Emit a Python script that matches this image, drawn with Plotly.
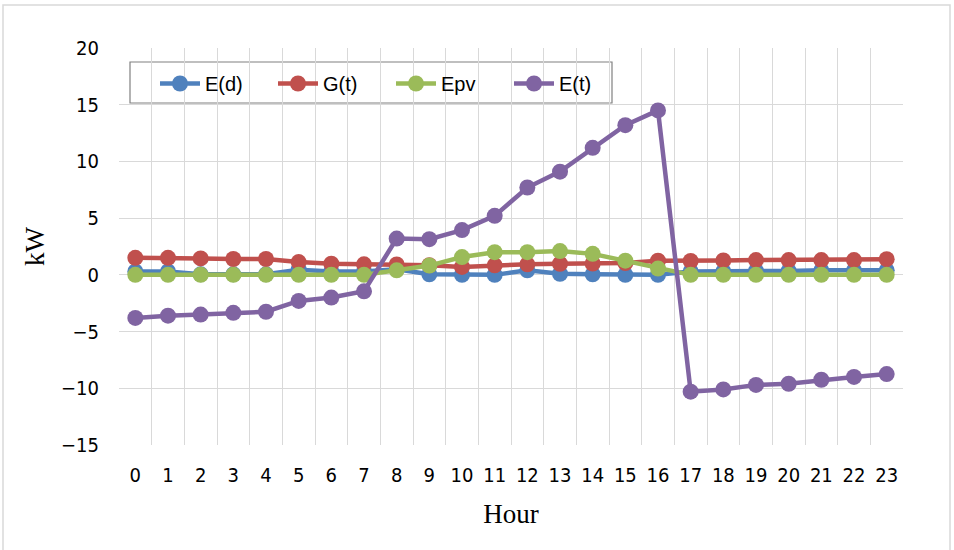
import plotly.graph_objects as go

hours = list(range(24))
hour_labels = [str(h) for h in hours]

E_d = [0.3, 0.3, 0.05, 0.05, 0.05, 0.45, 0.3, 0.3, 0.5, 0.05, 0.0, 0.0, 0.4, 0.1, 0.05, 0.0, 0.0,
       0.3, 0.3, 0.35, 0.35, 0.4, 0.4, 0.4]
G_t = [1.5, 1.5, 1.45, 1.4, 1.4, 1.13, 0.98, 0.93, 0.92, 0.85, 0.7, 0.84, 0.93, 0.98, 1.0, 1.04, 1.25,
       1.22, 1.27, 1.3, 1.3, 1.3, 1.3, 1.38]
E_pv = [0, 0, 0, 0, 0, 0, 0, 0, 0.4, 0.82, 1.57, 2.0, 2.0, 2.1, 1.85, 1.25, 0.55,
        0, 0, 0, 0, 0, 0, 0]
E_t = [-3.8, -3.6, -3.5, -3.35, -3.25, -2.3, -2.0, -1.45, 3.2, 3.15, 3.95, 5.2, 7.7, 9.1, 11.2, 13.2, 14.5,
       -10.3, -10.1, -9.7, -9.6, -9.25, -9.0, -8.75]

series = [("E(d)", E_d, "#4F81BD"), ("G(t)", G_t, "#C0504D"),
          ("Epv", E_pv, "#9BBB59"), ("E(t)", E_t, "#8064A2")]

fig = go.Figure()
for name, vals, col in series:
    fig.add_trace(go.Scatter(x=hours, y=vals, name=name, mode="lines+markers",
                             line=dict(color=col, width=4.5),
                             marker=dict(color=col, size=16)))

W, H = 954, 550
ml, mr, mt, mb = 119, 51, 48, 105
pw, ph = W - ml - mr, H - mt - mb
grid = "#d9d9d9"
tickfont = dict(family="DejaVu Sans Condensed, Liberation Sans Narrow, Arial Narrow, sans-serif",
                size=20, color="#000000")
serif = "Liberation Serif, Times New Roman, serif"


def px(x):
    return (x - ml) / pw


def py(y):
    return 1 - (y - mt) / ph


fig.update_layout(
    width=W, height=H,
    margin=dict(l=ml, r=mr, t=mt, b=mb),
    paper_bgcolor="white", plot_bgcolor="white",
    showlegend=True,
    legend=dict(orientation="h", x=px(155), y=py(64),
                xanchor="left", yanchor="top",
                borderwidth=0, bgcolor="rgba(0,0,0,0)",
                font=dict(family="Liberation Sans, Arial, sans-serif", size=20, color="#000"),
                entrywidth=63, entrywidthmode="pixels", itemwidth=40, tracegroupgap=0),
    xaxis=dict(range=[-0.5, 23.5], tickvals=hours, ticktext=hour_labels,
               showgrid=False, zeroline=False, showline=False, ticks="",
               tickfont=tickfont, ticklabelstandoff=16,
               minor=dict(tick0=-0.5, dtick=1, showgrid=True, gridcolor=grid, gridwidth=1, ticks=""),
               title=dict(text="Hour", font=dict(family=serif, size=27, color="#000"), standoff=18)),
    yaxis=dict(range=[-15, 20], tickvals=[-15, -10, -5, 0, 5, 10, 15, 20],
               showgrid=True, gridcolor=grid, gridwidth=1, zeroline=False,
               showline=False, ticks="", tickfont=tickfont, ticklabelstandoff=19,
               title=dict(text="kW", font=dict(family=serif, size=27, color="#000"), standoff=8)),
    shapes=[dict(type="rect", xref="paper", yref="paper",
                 x0=px(3), x1=px(950), y0=py(560), y1=py(5),
                 line=dict(color=grid, width=1.5), fillcolor="rgba(0,0,0,0)", layer="below"),
            dict(type="rect", xref="paper", yref="paper",
                 x0=px(130), x1=px(612), y0=py(103), y1=py(62),
                 line=dict(color="#808080", width=1.2), fillcolor="white", layer="between")],
)

fig.write_html("out.html")
